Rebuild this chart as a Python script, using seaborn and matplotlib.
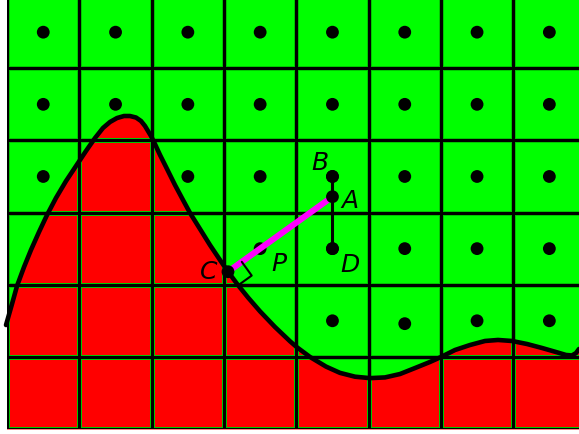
import numpy as np
import pandas as pd
import matplotlib
matplotlib.use("Agg")
import matplotlib.pyplot as plt
from matplotlib.patches import Rectangle
import seaborn as sns

sns.set_theme(style="white")
plt.rcParams["font.family"] = ["DejaVu Sans"]

# Grid of cells (8 columns x 6 rows, unit cells)
n_cols = 8
n_rows = 6

# Boundary curve separating the red region (below) from the green region
curve_x = [-0.015, 0.068, 0.137, 0.234, 0.330, 0.441, 0.552, 0.676, 0.815,
           0.953, 1.091, 1.216, 1.326, 1.423, 1.520, 1.617, 1.700, 1.783,
           1.852, 1.907, 1.949, 1.990, 2.032, 2.115, 2.212, 2.322, 2.433,
           2.530, 2.668, 2.806, 2.945, 3.055, 3.180, 3.332, 3.498, 3.705,
           3.913, 4.010, 4.190, 4.411, 4.604, 4.812, 5.019, 5.227, 5.434,
           5.642, 5.849, 6.001, 6.195, 6.402, 6.610, 6.790, 6.983, 7.191,
           7.398, 7.592, 7.730, 7.813, 7.869, 7.910]
curve_y = [1.441, 1.733, 1.982, 2.245, 2.481, 2.730, 2.966, 3.202, 3.437,
           3.645, 3.853, 4.033, 4.172, 4.255, 4.310, 4.338, 4.338, 4.317,
           4.269, 4.200, 4.130, 4.061, 3.978, 3.798, 3.604, 3.382, 3.174,
           2.994, 2.772, 2.550, 2.342, 2.182, 2.012, 1.823, 1.631, 1.414,
           1.216, 1.132, 0.998, 0.865, 0.778, 0.725, 0.705, 0.715, 0.762,
           0.845, 0.929, 0.998, 1.095, 1.164, 1.220, 1.234, 1.220, 1.178,
           1.123, 1.067, 1.026, 1.019, 1.053, 1.109]

# Named points
pt_A = (4.5, 3.22)
pt_B = (4.5, 3.5)
pt_C = (3.055, 2.18)
pt_D = (4.5, 2.5)
pt_P = (3.5, 2.5)

labels = ["A", "B", "C", "D", "P"]
label_x = [4.74, 4.33, 2.79, 4.74, 3.76]
label_y = [3.16, 3.69, 2.18, 2.27, 2.29]

# Cell-centre sample dots
cx, cy = np.meshgrid(np.arange(n_cols) + 0.5, np.arange(n_rows) + 0.5)
dots = pd.DataFrame({"x": cx.ravel(), "y": cy.ravel()})
dots.loc[(dots.x == 5.5) & (dots.y == 1.5), "y"] = 1.46

fig = plt.figure(figsize=(5.79, 4.34), dpi=100)
fig.patch.set_facecolor("white")
ax = fig.add_axes([0, 0, 1, 1])
ax.set_xlim(-0.0982, 7.910)
ax.set_ylim(-0.0693, 5.946)
ax.axis("off")

board = Rectangle((0, 0), n_cols, n_rows, facecolor="#00ff00",
                  edgecolor="none", zorder=0)
ax.add_patch(board)

# dots sit under the red fill
sns.scatterplot(data=dots, x="x", y="y", ax=ax, color="black", s=85,
                edgecolor="none", zorder=1, legend=False)

fill = ax.fill_between(curve_x, curve_y, 0, color="#ff0000", lw=0, zorder=2)
fill.set_clip_path(board)

# grid lines with a thin green rim
for k in range(n_cols + 1):
    for col, lw, z in (("#00cc00", 3.6, 3), ("black", 2.2, 4)):
        ln, = ax.plot([k, k], [0, n_rows], color=col, lw=lw, zorder=z,
                      solid_capstyle="butt")
        ln.set_clip_path(board)
for k in range(n_rows + 1):
    for col, lw, z in (("#00cc00", 3.6, 3), ("black", 2.2, 4)):
        ln, = ax.plot([0, n_cols], [k, k], color=col, lw=lw, zorder=z,
                      solid_capstyle="butt")
        ln.set_clip_path(board)

sns.lineplot(x=curve_x, y=curve_y, ax=ax, color="black", lw=3.3,
             sort=False, estimator=None, zorder=5, solid_capstyle="round",
             solid_joinstyle="round")

# segment C -> A
ax.plot([pt_C[0], pt_A[0]], [pt_C[1], pt_A[1]], color="#ff00ff", lw=4.4,
        zorder=6, solid_capstyle="butt")
# vertical segment B -> D
ax.plot([pt_B[0], pt_D[0]], [pt_B[1], pt_D[1]], color="black", lw=2.2,
        zorder=6)

# right-angle marker at C
u = np.array(pt_A) - np.array(pt_C)
u = u / np.linalg.norm(u)
v = np.array([u[1], -u[0]])
s = 0.235
c = np.array(pt_C)
corner = np.array([c + s * u, c + s * u + s * v, c + s * v])
ax.plot(corner[:, 0], corner[:, 1], color="black", lw=1.5, zorder=6)

pts = pd.DataFrame({"x": [pt_A[0], pt_B[0], pt_C[0], pt_D[0]],
                    "y": [pt_A[1], pt_B[1], pt_C[1], pt_D[1]]})
sns.scatterplot(data=pts, x="x", y="y", ax=ax, color="black", s=85,
                edgecolor="none", zorder=7, legend=False)

for t, x, y in zip(labels, label_x, label_y):
    ax.text(x, y, t, fontsize=18, fontstyle="italic", ha="center",
            va="center", color="black", zorder=8)

ax.set_xlabel("")
ax.set_ylabel("")
fig.savefig("out.png", dpi=100, facecolor="white")
